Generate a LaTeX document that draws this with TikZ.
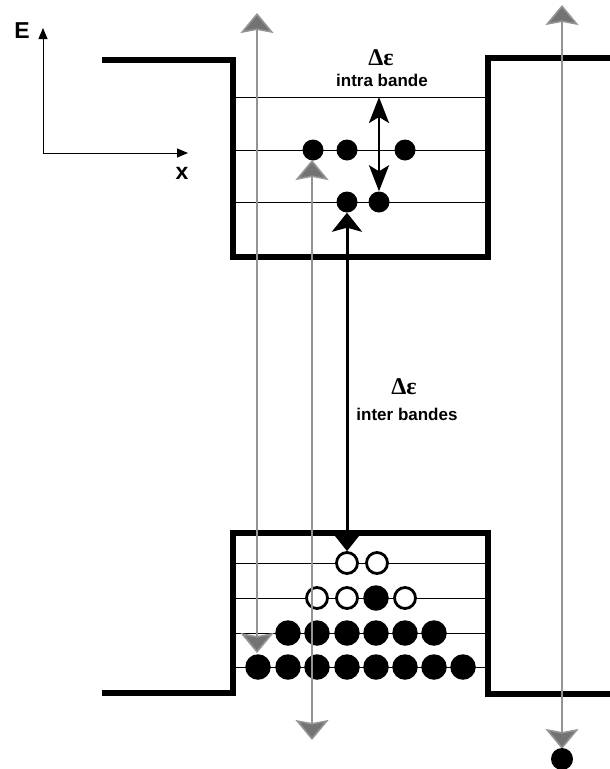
\documentclass[tikz,border=0pt]{standalone}
\usepackage{fontspec}
\newfontfamily\lsans{Liberation Sans}
\newfontfamily\lserif{Liberation Serif}
\usetikzlibrary{arrows.meta}
\begin{document}
\begin{tikzpicture}[x=1pt,y=-1pt,
  wall/.style={line width=5.5pt, line join=miter},
  level/.style={line width=1pt},
  fdot/.style={circle, fill=black, inner sep=0pt, minimum size=21pt},
  ldot/.style={circle, fill=black, inner sep=0pt, minimum size=25.5pt},
  odot/.style={circle, draw=black, fill=white, line width=2.8pt, inner sep=0pt, minimum size=21pt},
  axis/.style={line width=1pt, -{Triangle[length=11pt,width=9pt]}},
  grayarr/.style={line width=1.6pt, draw=black!42, {Stealth[length=20pt,width=33pt,inset=3pt,fill=black!55]}-{Stealth[length=20pt,width=33pt,inset=3pt,fill=black!55]}},
  intraarr/.style={line width=2.6pt, {Stealth[length=26pt,width=20pt,inset=6pt]}-{Stealth[length=26pt,width=20pt,inset=6pt]}},
  interarr/.style={line width=3pt, {Stealth[length=19pt,width=30pt,inset=4pt]}-{Stealth[length=19pt,width=30pt,inset=4pt]}},
  lab/.style={font=\lsans\bfseries\fontsize{17}{17}\selectfont, inner sep=0pt},
  delta/.style={font=\lserif\bfseries\fontsize{24}{24}\selectfont, inner sep=0pt},
  axlab/.style={font=\lsans\bfseries\fontsize{23}{23}\selectfont, inner sep=0pt}
]
\useasboundingbox (0,0) rectangle (610,769);

% axes
\coordinate (O) at (43,153);
\coordinate (Etip) at (43,28);
\coordinate (Xtip) at (188,153);
\draw[axis] (O) -- (Etip);
\draw[axis] (O) -- (Xtip);
\node[axlab] (E) at (22,31) {E};
\node[axlab] (X) at (182,173) {x};

% levels upper well
\foreach \y in {97,150,202} \draw[level] (233,\y) -- (488,\y);
% levels lower well
\foreach \y in {563,598,633,667} \draw[level] (233,\y) -- (488,\y);

% walls
\draw[wall] (102,60) -- (233,60) -- (233,257) -- (488,257) -- (488,58) -- (610,58);
\draw[wall] (102,693) -- (233,693) -- (233,533) -- (488,533) -- (488,694) -- (610,694);

% upper electrons
\node[fdot] (u1) at (313,150) {};
\node[fdot] (u2) at (347,150) {};
\node[fdot] (u3) at (405,150) {};
\node[fdot] (u4) at (347,202) {};
\node[fdot] (u5) at (379,202) {};

% lower levels
\node[odot] (a1) at (347,563) {};
\node[odot] (a2) at (377,563) {};
\node[odot] (b1) at (317,598) {};
\node[odot] (b2) at (347,598) {};
\node[ldot] (b3) at (376,598) {};
\node[odot] (b4) at (405,598) {};
\foreach \i/\x in {1/288,2/317,3/347,4/376,5/405,6/434}
  \node[ldot] (c\i) at (\x,633) {};
\foreach \i/\x in {1/258,2/288,3/317,4/347,5/376,6/405,7/434,8/463}
  \node[ldot] (d\i) at (\x,667) {};

% intra band arrow
\coordinate (intratop) at (379,97);
\draw[intraarr] (intratop) -- (u5.north);
\node[delta] (d1) at (381,58) {Δε};
\node[lab] (t1) at (382,80) {intra bande};

% inter band arrow
\draw[interarr] (u4.south) -- (a1.north);
\node[delta] (d2) at (404,387) {Δε};
\node[lab] (t2) at (407,414) {inter bandes};

% gray arrows
\coordinate (g1t) at (257,13);
\coordinate (g1b) at (257,653);
\coordinate (g2t) at (312,160);
\coordinate (g2b) at (312,740);
\coordinate (g3t) at (562,5);
\coordinate (g3b) at (562,749);
\draw[grayarr] (g1t) -- (g1b);
\draw[grayarr] (g2t) -- (g2b);
\draw[grayarr] (g3t) -- (g3b);

% free electron
\node[fdot, minimum size=22pt] (fe) at (562,759) {};
\end{tikzpicture}
\end{document}
